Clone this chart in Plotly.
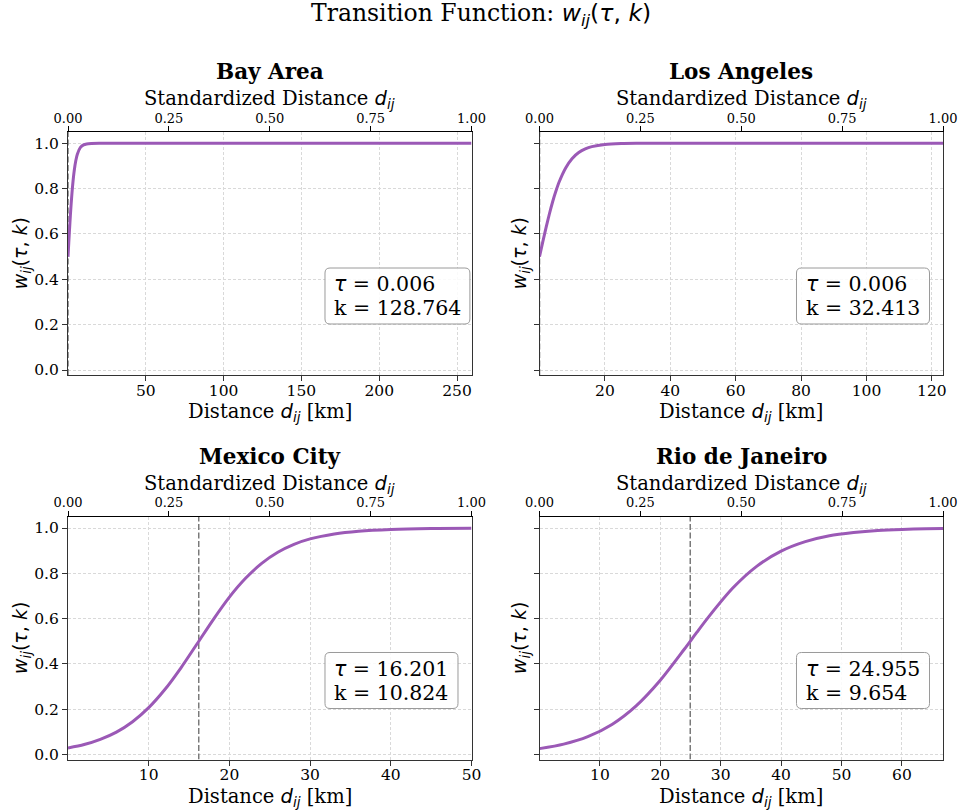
import plotly.graph_objects as go

# ---------------- data ----------------
cities = ["Bay Area", "Los Angeles", "Mexico City", "Rio de Janeiro"]
tau_km = [0.006, 0.006, 16.201, 24.955]
k_vals = [128.764, 32.413, 10.824, 9.654]
tau_text = ["0.006", "0.006", "16.201", "24.955"]
k_text = ["128.764", "32.413", "10.824", "9.654"]
d_max = [259.3, 123.4, 50.0, 66.8]

bay_d = [0, 0.5, 1, 1.5, 2, 3, 4, 5, 6, 8, 10, 12, 15, 20, 50, 100, 150, 200, 259.3]
bay_w = [0.499, 0.562, 0.622, 0.678, 0.730, 0.816, 0.879, 0.923, 0.952, 0.982, 0.993, 0.997, 0.999, 1.0, 1.0, 1.0, 1.0, 1.0, 1.0]

la_d = [0, 1, 2, 3, 4, 5, 6, 8, 10, 12, 14, 16, 20, 25, 30, 40, 60, 80, 100, 123.4]
la_w = [0.500, 0.565, 0.628, 0.687, 0.741, 0.788, 0.829, 0.891, 0.933, 0.959, 0.975, 0.985, 0.995, 0.999, 1.0, 1.0, 1.0, 1.0, 1.0, 1.0]

mx_d = [0, 2, 4, 6, 8, 10, 12, 14, 16, 18, 20, 22, 24, 26, 28, 30, 33, 36, 40, 45, 50]
mx_w = [0.029, 0.044, 0.067, 0.099, 0.145, 0.207, 0.287, 0.383, 0.489, 0.596, 0.695, 0.778, 0.844, 0.893, 0.928, 0.952, 0.974, 0.986, 0.994, 0.998, 0.999]

rio_d = [0, 4, 8, 12, 16, 20, 24, 26, 28, 32, 36, 40, 44, 48, 52, 56, 60, 64, 66.8]
rio_w = [0.026, 0.046, 0.079, 0.133, 0.215, 0.328, 0.466, 0.538, 0.608, 0.735, 0.832, 0.898, 0.940, 0.966, 0.980, 0.989, 0.994, 0.997, 0.998]

curves_d = [bay_d, la_d, mx_d, rio_d]
curves_w = [bay_w, la_w, mx_w, rio_w]

x_ticks = [[50, 100, 150, 200, 250], [20, 40, 60, 80, 100, 120],
           [10, 20, 30, 40, 50], [10, 20, 30, 40, 50, 60]]
std_ticks = [0, 0.25, 0.5, 0.75, 1.0]
std_tick_labels = ["0.00", "0.25", "0.50", "0.75", "1.00"]
y_ticks = [0, 0.2, 0.4, 0.6, 0.8, 1.0]
y_tick_labels = ["0.0", "0.2", "0.4", "0.6", "0.8", "1.0"]
y_range = [-0.022, 1.051]

# ---------------- style ----------------
W, H = 959, 812
SERIF = "DejaVu Serif"
LINE = "#9b59b6"
SPINE = "#333333"
GRID = "#d9d9d9"
cols_px = [(68, 471.5), (539.5, 943)]
rows_px = [(131.7, 375), (516.5, 759.5)]


def px_x(p):
    return p / W


def px_y(p):
    return 1 - p / H


def math(s):
    return "<span style='font-family:DejaVu Sans'>" + s + "</span>"


def rounded_rect(bx0, by0, bx1, by1, rad):
    X = lambda v: f"{px_x(v):.5f}"
    Y = lambda v: f"{px_y(v):.5f}"
    return (f"M {X(bx0 + rad)},{Y(by0)} L {X(bx1 - rad)},{Y(by0)} "
            f"Q {X(bx1)},{Y(by0)} {X(bx1)},{Y(by0 + rad)} L {X(bx1)},{Y(by1 - rad)} "
            f"Q {X(bx1)},{Y(by1)} {X(bx1 - rad)},{Y(by1)} L {X(bx0 + rad)},{Y(by1)} "
            f"Q {X(bx0)},{Y(by1)} {X(bx0)},{Y(by1 - rad)} L {X(bx0)},{Y(by0 + rad)} "
            f"Q {X(bx0)},{Y(by0)} {X(bx0 + rad)},{Y(by0)} Z")


D_IJ = math("<i>d</i><sub><i>ij</i></sub>")
W_IJ = math("<i>w</i><sub><i>ij</i></sub>(<i>τ</i>, <i>k</i>)")

fig = go.Figure()
layout = dict(width=W, height=H, autosize=False,
              margin=dict(l=0, r=0, t=0, b=0, pad=0, autoexpand=False),
              paper_bgcolor="white", plot_bgcolor="white", showlegend=False,
              font=dict(family=SERIF, color="black"))
annotations = []
shapes = []

for i in range(4):
    r, c = divmod(i, 2)
    x0, x1 = cols_px[c]
    y0, y1 = rows_px[r]
    xa = "x" if i == 0 else f"x{i+1}"
    ya = "y" if i == 0 else f"y{i+1}"
    xtop = f"x{i+5}"

    fig.add_trace(go.Scatter(x=[tau_km[i], tau_km[i]], y=y_range, mode="lines",
                             line=dict(color="#7a7a7a", width=1.5, dash="6px,2.5px"),
                             xaxis=xa, yaxis=ya, hoverinfo="skip"))
    fig.add_trace(go.Scatter(x=curves_d[i], y=curves_w[i], mode="lines",
                             line=dict(color=LINE, width=3, shape="spline", smoothing=0.8),
                             xaxis=xa, yaxis=ya))
    # invisible helper so the top (standardized) axis is drawn
    fig.add_trace(go.Scatter(x=[std_ticks[0], std_ticks[-1]], y=[y_ticks[0], y_ticks[0]],
                             mode="markers", marker=dict(opacity=0, size=1),
                             xaxis=xtop, yaxis=ya, hoverinfo="skip"))

    layout[f"xaxis{i+1}"] = dict(
        domain=[px_x(x0), px_x(x1)], anchor=ya, range=[0, d_max[i]], automargin=False,
        tickvals=x_ticks[i], ticks="outside", ticklen=5, tickwidth=1, tickcolor=SPINE,
        ticklabelstandoff=-4,
        tickfont=dict(family=SERIF, size=15.5, color="black"),
        showline=True, linecolor=SPINE, linewidth=1, mirror=False,
        showgrid=True, gridcolor=GRID, griddash="3px,2px", gridwidth=1, zeroline=False)
    layout[f"yaxis{i+1}"] = dict(
        domain=[px_y(y1), px_y(y0)], anchor=xa, range=y_range, automargin=False,
        tickvals=y_ticks, ticktext=y_tick_labels, showticklabels=(c == 0),
        ticks="outside", ticklen=5, tickwidth=1, tickcolor=SPINE,
        tickfont=dict(family=SERIF, size=15.5, color="black"),
        showline=True, linecolor=SPINE, linewidth=1, mirror=True,
        showgrid=True, gridcolor=GRID, griddash="3px,2px", gridwidth=1, zeroline=False)
    layout[f"xaxis{i+5}"] = dict(
        overlaying=xa, anchor=ya, side="top", range=[0, 1.0], automargin=False,
        tickvals=std_ticks, ticktext=std_tick_labels, ticks="outside", ticklen=5,
        tickwidth=1, tickcolor="black", ticklabelstandoff=-2,
        tickfont=dict(family=SERIF, size=13, color="black"),
        showline=True, linecolor="black", linewidth=1, showgrid=False, zeroline=False)

    cx = (x0 + x1) / 2
    annotations.append(dict(text="<b>" + cities[i] + "</b>", x=px_x(cx), y=px_y(y0 - 60),
                            xref="paper", yref="paper", xanchor="center", yanchor="middle",
                            showarrow=False, font=dict(family=SERIF, size=21.5, color="black")))
    annotations.append(dict(text="Standardized Distance " + D_IJ, x=px_x(cx), y=px_y(y0 - 32.5),
                            xref="paper", yref="paper", xanchor="center", yanchor="middle",
                            showarrow=False, font=dict(family=SERIF, size=19.5, color="black")))
    annotations.append(dict(text="Distance " + D_IJ + " [km]", x=px_x(cx), y=px_y(y1 + 38),
                            xref="paper", yref="paper", xanchor="center", yanchor="middle",
                            showarrow=False, font=dict(family=SERIF, size=19.5, color="black")))
    ytx = 21 if c == 0 else 520
    annotations.append(dict(text=W_IJ, x=px_x(ytx), y=px_y((y0 + y1) / 2),
                            xref="paper", yref="paper", xanchor="center", yanchor="middle",
                            textangle=-90, showarrow=False,
                            font=dict(family=SERIF, size=19, color="black")))
    # parameter box (rounded, like a matplotlib bbox)
    line1 = math("<i>τ</i>") + " = " + tau_text[i]
    line2 = "k = " + k_text[i]
    nchar = max(len("τ = " + tau_text[i]), len(line2))
    bx0 = x0 + 257
    bx1 = bx0 + 14 + 11.9 * nchar
    by1 = y1 - 51
    by0 = by1 - 56
    shapes.append(dict(type="path", xref="paper", yref="paper",
                       path=rounded_rect(bx0, by0, bx1, by1, 5),
                       fillcolor="rgba(255,255,255,0.85)",
                       line=dict(color="#9a9a9a", width=1), layer="above"))
    for txt, ly in ((line1, by0 + 16), (line2, by0 + 40)):
        annotations.append(dict(text=txt, x=px_x(bx0 + 7), y=px_y(ly),
                                xref="paper", yref="paper", xanchor="left", yanchor="middle",
                                align="left", showarrow=False,
                                font=dict(family=SERIF, size=20.5, color="black")))

annotations.append(dict(text="Transition Function: " + math("<i>w</i><sub><i>ij</i></sub>(<i>τ</i>, <i>k</i>)"),
                        x=px_x(481), y=px_y(15), xref="paper", yref="paper",
                        xanchor="center", yanchor="middle", showarrow=False,
                        font=dict(family=SERIF, size=23.5, color="black")))

layout["annotations"] = annotations
layout["shapes"] = shapes
fig.update_layout(**layout)
fig.write_html("out.html", config={"displayModeBar": False},
               post_script="document.body.style.margin='0px';")
